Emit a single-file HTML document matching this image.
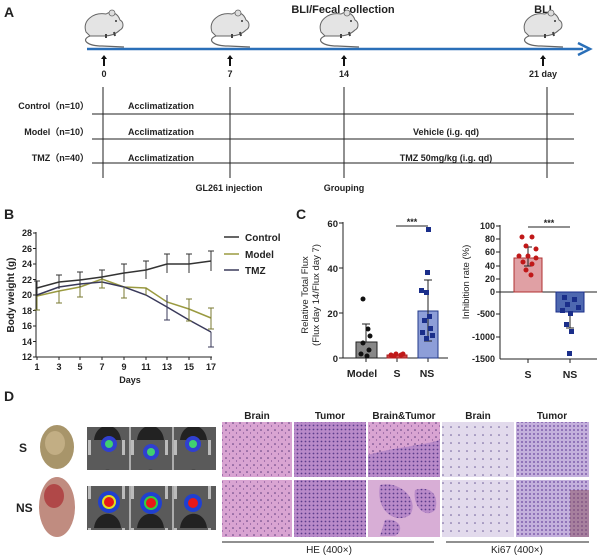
<!DOCTYPE html>
<html><head><meta charset="utf-8"><style>
html,body{margin:0;padding:0;background:#fff}
svg{display:block}
text{font-family:"Liberation Sans",Arial,sans-serif;font-weight:bold;fill:#222}
</style></head><body>
<svg width="600" height="556" viewBox="0 0 600 556" xmlns="http://www.w3.org/2000/svg">
<defs>
<g id="mouse">
<path d="M-16,6 C-20,-6 -8,-14 4,-12 C10,-16 16,-12 18,-6 C22,-4 22,2 18,4 C14,8 8,10 2,10 L-12,10 Z" fill="#e4e4e4" stroke="#666" stroke-width="1"/>
<circle cx="10" cy="-13" r="3" fill="#ddd" stroke="#666" stroke-width="0.8"/>
<circle cx="14" cy="-5" r="1" fill="#333"/>
<path d="M-12,10 C-22,14 -14,20 0,20 L22,21" fill="none" stroke="#666" stroke-width="1.2"/>
<path d="M4,8 l0,4 M12,6 l1,4" stroke="#444" stroke-width="2"/>
</g>
<pattern id="he1" width="7" height="7" patternUnits="userSpaceOnUse"><rect width="7" height="7" fill="#d9a4d2"/><circle cx="2" cy="3" r="0.8" fill="#5a3a7a"/><circle cx="5.5" cy="6" r="0.6" fill="#7a4a90"/></pattern>
<pattern id="he2" width="4" height="4" patternUnits="userSpaceOnUse"><rect width="4" height="4" fill="#b98ac9"/><circle cx="1.5" cy="1.5" r="0.9" fill="#5c3c8c"/></pattern>
<pattern id="ki1" width="8" height="8" patternUnits="userSpaceOnUse"><rect width="8" height="8" fill="#e2daec"/><circle cx="3" cy="3" r="0.8" fill="#6a5a96"/></pattern>
<pattern id="ki2" width="4" height="4" patternUnits="userSpaceOnUse"><rect width="4" height="4" fill="#c4b0dc"/><circle cx="2" cy="2" r="0.9" fill="#6c48a0"/></pattern>
<pattern id="bli" width="43" height="44" patternUnits="userSpaceOnUse"><rect width="43" height="44" fill="#5a5a5a"/><path d="M8,44 C10,25 33,25 35,44 Z" fill="#222"/><rect x="2" y="0" width="3" height="15" fill="#bbb"/><rect x="36" y="0" width="3" height="15" fill="#bbb"/></pattern>
</defs>

<!-- Panel A -->
<text x="4" y="17" font-size="14">A</text>
<text x="343" y="13" font-size="11" text-anchor="middle">BLI/Fecal collection</text>
<text x="543" y="13" font-size="11" text-anchor="middle">BLI</text>
<use href="#mouse" x="102" y="26"/>
<use href="#mouse" x="228" y="26"/>
<use href="#mouse" x="337" y="26"/>
<use href="#mouse" x="541" y="26"/>
<line x1="87" y1="49" x2="583" y2="49" stroke="#2a6fb8" stroke-width="2.5"/>
<path d="M578,43 L590,49 L578,55" fill="none" stroke="#2a6fb8" stroke-width="2.5"/>
<g stroke="#111" stroke-width="2">
<line x1="104" y1="57" x2="104" y2="66"/><line x1="230" y1="57" x2="230" y2="66"/><line x1="344" y1="57" x2="344" y2="66"/><line x1="543" y1="57" x2="543" y2="66"/></g>
<g fill="#111"><path d="M101,59 l3,-4 l3,4z"/><path d="M227,59 l3,-4 l3,4z"/><path d="M341,59 l3,-4 l3,4z"/><path d="M540,59 l3,-4 l3,4z"/></g>
<g font-size="9" text-anchor="middle"><text x="104" y="77">0</text><text x="230" y="77">7</text><text x="344" y="77">14</text><text x="543" y="77">21 day</text></g>
<g stroke="#222" stroke-width="1">
<line x1="103" y1="87" x2="103" y2="178"/><line x1="230" y1="87" x2="230" y2="178"/><line x1="344" y1="87" x2="344" y2="178"/><line x1="547" y1="87" x2="547" y2="178"/>
<line x1="92" y1="114" x2="574" y2="114"/><line x1="92" y1="139" x2="574" y2="139"/><line x1="92" y1="163" x2="574" y2="163"/></g>
<g font-size="9" text-anchor="end"><text x="89" y="109">Control（n=10）</text><text x="89" y="135">Model（n=10）</text><text x="89" y="161">TMZ（n=40）</text></g>
<g font-size="9"><text x="128" y="109">Acclimatization</text><text x="128" y="135">Acclimatization</text><text x="128" y="161">Acclimatization</text></g>
<g font-size="9" text-anchor="middle"><text x="446" y="135">Vehicle (i.g. qd)</text><text x="446" y="161">TMZ  50mg/kg (i.g. qd)</text>
<text x="229" y="191">GL261  injection</text><text x="344" y="191">Grouping</text></g>

<!-- Panel B -->
<text x="4" y="219" font-size="14">B</text>
<g stroke="#222" stroke-width="1">
<line x1="36" y1="232" x2="36" y2="357"/><line x1="36" y1="357" x2="212" y2="357"/>
</g>
<g font-size="9" text-anchor="end">
<text x="32" y="236">28</text><text x="32" y="252">26</text><text x="32" y="267">24</text><text x="32" y="283">22</text><text x="32" y="298">20</text><text x="32" y="314">18</text><text x="32" y="329">16</text><text x="32" y="345">14</text><text x="32" y="360">12</text></g>
<g stroke="#222"><line x1="33" y1="233" x2="36" y2="233"/><line x1="33" y1="248.5" x2="36" y2="248.5"/><line x1="33" y1="264" x2="36" y2="264"/><line x1="33" y1="279.5" x2="36" y2="279.5"/><line x1="33" y1="295" x2="36" y2="295"/><line x1="33" y1="310.5" x2="36" y2="310.5"/><line x1="33" y1="326" x2="36" y2="326"/><line x1="33" y1="341.5" x2="36" y2="341.5"/><line x1="33" y1="357" x2="36" y2="357"/>
<line x1="37" y1="357" x2="37" y2="360"/><line x1="59" y1="357" x2="59" y2="360"/><line x1="80" y1="357" x2="80" y2="360"/><line x1="102" y1="357" x2="102" y2="360"/><line x1="124" y1="357" x2="124" y2="360"/><line x1="146" y1="357" x2="146" y2="360"/><line x1="167" y1="357" x2="167" y2="360"/><line x1="189" y1="357" x2="189" y2="360"/><line x1="211" y1="357" x2="211" y2="360"/></g>
<g font-size="9" text-anchor="middle"><text x="37" y="370">1</text><text x="59" y="370">3</text><text x="80" y="370">5</text><text x="102" y="370">7</text><text x="124" y="370">9</text><text x="146" y="370">11</text><text x="167" y="370">13</text><text x="189" y="370">15</text><text x="211" y="370">17</text>
<text x="130" y="383">Days</text></g>
<text transform="translate(14,295) rotate(-90)" font-size="10" text-anchor="middle">Body weight (g)</text>
<polyline fill="none" stroke="#333" stroke-width="1.5" points="37,288 59,282 80,280 102,277 124,273 146,270 167,264 189,264 211,261"/>
<polyline fill="none" stroke="#9a9a40" stroke-width="1.5" points="37,296 59,291 80,287 102,279 124,287 146,288 167,302 189,309 211,318"/>
<polyline fill="none" stroke="#3a3a5a" stroke-width="1.5" points="37,295 59,287 80,284 102,282 124,287 146,295 167,307 189,320 211,332"/>
<g stroke="#333" stroke-width="1" fill="none">
<path d="M37,281v15M34,281h6M59,275v14M56,275h6M80,272v15M77,272h6M102,270v14M99,270h6M124,264v18M121,264h6M146,261v18M143,261h6M167,254v19M164,254h6M189,254v19M186,254h6M211,251v20M208,251h6"/>
<path stroke="#7a7a30" d="M37,296v14M34,310h6M59,291v12M56,303h6M80,287v10M77,297h6M102,279v9M99,288h6M124,287v11M121,298h6M146,288v7M189,299v22M186,299h6M186,321h6M211,308v21M208,308h6M208,329h6"/>
<path stroke="#3a3a5a" d="M167,295v25M164,320h6M211,332v15M208,347h6"/>
</g>
<g stroke-width="1.5"><line x1="224" y1="237" x2="239" y2="237" stroke="#333"/><line x1="224" y1="254" x2="239" y2="254" stroke="#9a9a40"/><line x1="224" y1="270" x2="239" y2="270" stroke="#3a3a5a"/></g>
<g font-size="10"><text x="245" y="241">Control</text><text x="245" y="258">Model</text><text x="245" y="274">TMZ</text></g>

<!-- Panel C left -->
<text x="296" y="219" font-size="14">C</text>
<line x1="343" y1="222" x2="343" y2="358" stroke="#222"/>
<line x1="343" y1="358" x2="448" y2="358" stroke="#222"/>
<g stroke="#222"><line x1="339" y1="223" x2="343" y2="223"/><line x1="339" y1="268" x2="343" y2="268"/><line x1="339" y1="313" x2="343" y2="313"/><line x1="339" y1="358" x2="343" y2="358"/>
<line x1="366" y1="358" x2="366" y2="362"/><line x1="397" y1="358" x2="397" y2="362"/><line x1="428" y1="358" x2="428" y2="362"/></g>
<g font-size="9.5" text-anchor="end"><text x="338" y="227">60</text><text x="338" y="272">40</text><text x="338" y="317">20</text><text x="338" y="362">0</text></g>
<rect x="356" y="342" width="21" height="16" fill="#888" stroke="#222"/>
<rect x="387" y="355" width="20" height="3" fill="#c44" stroke="#a22"/>
<rect x="418" y="311" width="20" height="47" fill="#8d9ed8" stroke="#223a8a"/>
<path d="M366,342v-18M362,324h8M428,311v-31M424,280h8M428,311v30M424,341h8" stroke="#222" fill="none"/>
<g fill="#111"><circle cx="363" cy="299" r="2.5"/><circle cx="368" cy="329" r="2.5"/><circle cx="370" cy="336" r="2.5"/><circle cx="363" cy="343" r="2.5"/><circle cx="369" cy="350" r="2.5"/><circle cx="361" cy="354" r="2.5"/><circle cx="367" cy="356" r="2.5"/></g>
<g fill="#c01818"><circle cx="391" cy="355" r="2.5"/><circle cx="396" cy="354" r="2.5"/><circle cx="401" cy="355" r="2.5"/><circle cx="394" cy="356" r="2.5"/><circle cx="403" cy="354" r="2.5"/></g>
<g fill="#1a2e8a"><rect x="426" y="227" width="5" height="5"/><rect x="425" y="270" width="5" height="5"/><rect x="419" y="288" width="5" height="5"/><rect x="424" y="290" width="5" height="5"/><rect x="427" y="314" width="5" height="5"/><rect x="422" y="318" width="5" height="5"/><rect x="428" y="326" width="5" height="5"/><rect x="420" y="330" width="5" height="5"/><rect x="430" y="333" width="5" height="5"/><rect x="424" y="336" width="5" height="5"/></g>
<line x1="396" y1="226" x2="428" y2="226" stroke="#222"/>
<text x="412" y="225" font-size="9" text-anchor="middle">***</text>
<g font-size="10.5" text-anchor="middle"><text x="362" y="377">Model</text><text x="397" y="377">S</text><text x="427" y="377">NS</text></g>
<text transform="translate(308,295) rotate(-90)" font-size="9.5" text-anchor="middle" style="font-weight:normal">Relative Total Flux</text>
<text transform="translate(319,295) rotate(-90)" font-size="9.5" text-anchor="middle" style="font-weight:normal">(Flux day 14/Flux day 7)</text>

<!-- Panel C right -->
<line x1="500" y1="225" x2="500" y2="359" stroke="#222"/>
<line x1="500" y1="292" x2="597" y2="292" stroke="#222"/>
<line x1="500" y1="359" x2="597" y2="359" stroke="#222"/>
<g stroke="#222"><line x1="496" y1="226" x2="500" y2="226"/><line x1="496" y1="239" x2="500" y2="239"/><line x1="496" y1="252" x2="500" y2="252"/><line x1="496" y1="266" x2="500" y2="266"/><line x1="496" y1="279" x2="500" y2="279"/><line x1="496" y1="292" x2="500" y2="292"/><line x1="496" y1="314" x2="500" y2="314"/><line x1="496" y1="337" x2="500" y2="337"/>
<line x1="528" y1="359" x2="528" y2="363"/><line x1="570" y1="359" x2="570" y2="363"/></g>
<g font-size="9" text-anchor="end"><text x="495" y="229">100</text><text x="495" y="242">80</text><text x="495" y="255">60</text><text x="495" y="269">40</text><text x="495" y="282">20</text><text x="495" y="295">0</text><text x="495" y="317">-500</text><text x="495" y="340">-1000</text><text x="495" y="362">-1500</text></g>
<rect x="514" y="258" width="28" height="34" fill="#e0a0a4" stroke="#b03030"/>
<rect x="556" y="292" width="28" height="20" fill="#4e68b0" stroke="#1a2e8a"/>
<path d="M528,258v-11M524,247h8M528,258v8M524,266h8M570,312v16M566,328h8" stroke="#222" fill="none"/>
<g fill="#c01818"><circle cx="522" cy="237" r="2.5"/><circle cx="532" cy="237" r="2.5"/><circle cx="526" cy="246" r="2.5"/><circle cx="536" cy="249" r="2.5"/><circle cx="519" cy="256" r="2.5"/><circle cx="528" cy="256" r="2.5"/><circle cx="536" cy="258" r="2.5"/><circle cx="523" cy="262" r="2.5"/><circle cx="532" cy="264" r="2.5"/><circle cx="526" cy="270" r="2.5"/><circle cx="531" cy="275" r="2.5"/></g>
<g fill="#1a2e8a"><rect x="562" y="295" width="5" height="5"/><rect x="572" y="297" width="5" height="5"/><rect x="565" y="302" width="5" height="5"/><rect x="576" y="305" width="5" height="5"/><rect x="560" y="308" width="5" height="5"/><rect x="568" y="311" width="5" height="5"/><rect x="564" y="322" width="5" height="5"/><rect x="569" y="329" width="5" height="5"/><rect x="567" y="351" width="5" height="5"/></g>
<line x1="528" y1="227" x2="570" y2="227" stroke="#222"/>
<text x="549" y="226" font-size="9" text-anchor="middle">***</text>
<g font-size="10.5" text-anchor="middle"><text x="528" y="378">S</text><text x="570" y="378">NS</text></g>
<text transform="translate(469,282) rotate(-90)" font-size="9.5" text-anchor="middle" style="font-weight:normal">Inhibition rate (%)</text>

<!-- Panel D -->
<text x="4" y="401" font-size="14">D</text>
<text x="19" y="452" font-size="12">S</text>
<text x="16" y="512" font-size="12">NS</text>
<ellipse cx="57" cy="447" rx="17" ry="22" fill="#a8956a"/>
<ellipse cx="55" cy="443" rx="10" ry="12" fill="#c2ae84"/>
<ellipse cx="57" cy="507" rx="18" ry="30" fill="#c08c80"/>
<ellipse cx="54" cy="496" rx="10" ry="12" fill="#b04848"/>
<rect x="87" y="427" width="129" height="43" fill="url(#bli)"/>
<rect x="87" y="486" width="129" height="44" fill="url(#bli)"/>
<g stroke="#fff" stroke-width="1"><line x1="130" y1="427" x2="130" y2="470"/><line x1="173" y1="427" x2="173" y2="470"/><line x1="130" y1="486" x2="130" y2="530"/><line x1="173" y1="486" x2="173" y2="530"/></g>
<g><ellipse cx="109" cy="444" rx="8" ry="8" fill="#3040d0"/><ellipse cx="109" cy="444" rx="4" ry="4" fill="#40d070"/>
<ellipse cx="151" cy="452" rx="8" ry="8" fill="#3040d0"/><ellipse cx="151" cy="452" rx="4" ry="4" fill="#40d070"/>
<ellipse cx="193" cy="444" rx="8" ry="8" fill="#3040d0"/><ellipse cx="193" cy="444" rx="4" ry="4" fill="#40d070"/>
<ellipse cx="109" cy="502" rx="11" ry="11" fill="#2040d0"/><ellipse cx="109" cy="502" rx="7" ry="7" fill="#e0e020"/><ellipse cx="109" cy="502" rx="5" ry="5" fill="#e81818"/>
<ellipse cx="151" cy="503" rx="11" ry="11" fill="#2040d0"/><ellipse cx="151" cy="503" rx="7" ry="7" fill="#30d040"/><ellipse cx="151" cy="503" rx="5" ry="5" fill="#e81818"/>
<ellipse cx="193" cy="503" rx="9" ry="9" fill="#2040d0"/><ellipse cx="193" cy="503" rx="5" ry="5" fill="#e81818"/></g>
<g font-size="10" text-anchor="middle"><text x="257" y="419">Brain</text><text x="330" y="419">Tumor</text><text x="404" y="419">Brain&amp;Tumor</text><text x="478" y="419">Brain</text><text x="552" y="419">Tumor</text></g>
<rect x="222" y="422" width="70" height="55" fill="url(#he1)"/>
<rect x="294" y="422" width="72" height="55" fill="url(#he2)"/>
<rect x="368" y="422" width="72" height="55" fill="url(#he1)"/>
<path d="M368,455 C390,448 420,446 440,440 L440,477 L368,477Z" fill="url(#he2)"/>
<rect x="442" y="422" width="72" height="55" fill="url(#ki1)"/>
<rect x="516" y="422" width="73" height="55" fill="url(#ki2)"/>
<rect x="222" y="480" width="70" height="57" fill="url(#he1)"/>
<rect x="294" y="480" width="72" height="57" fill="url(#he2)"/>
<rect x="368" y="480" width="72" height="57" fill="#d8aed6"/>
<path d="M380,485 C400,480 420,500 410,515 C395,525 375,510 380,485Z M415,490 C430,485 440,495 435,510 C425,520 412,505 415,490Z M385,520 C400,518 405,530 395,536 L380,536Z" fill="url(#he2)"/>
<rect x="442" y="480" width="72" height="57" fill="url(#ki1)"/>
<rect x="516" y="480" width="73" height="57" fill="url(#ki2)"/>
<rect x="570" y="490" width="19" height="47" fill="#8a5060" opacity="0.5"/>
<line x1="222" y1="542" x2="434" y2="542" stroke="#222"/>
<line x1="446" y1="542" x2="589" y2="542" stroke="#222"/>
<g font-size="10" text-anchor="middle"><text x="329" y="553" style="font-weight:normal">HE (400×)</text><text x="517" y="553" style="font-weight:normal">Ki67 (400×)</text></g>
</svg>
</body></html>
